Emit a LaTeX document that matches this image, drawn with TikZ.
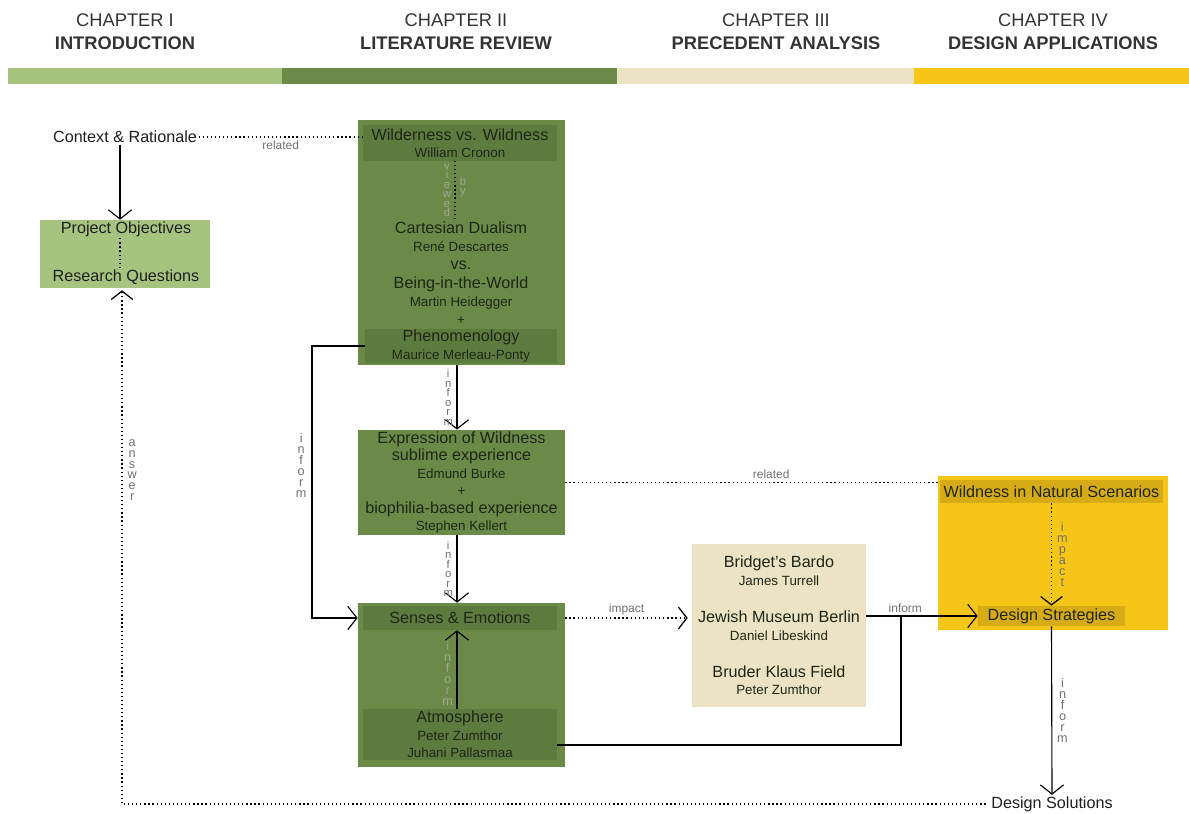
\documentclass[tikz,border=0pt]{standalone}
\usepackage{fontspec}
\setmainfont{Liberation Sans}
\usetikzlibrary{arrows.meta, positioning, calc}

\definecolor{introgreen}{HTML}{A6C47F}
\definecolor{litgreen}{HTML}{6B8A48}
\definecolor{litband}{HTML}{5E7B3F}
\definecolor{precbeige}{HTML}{EBE3C3}
\definecolor{desyellow}{HTML}{F5C518}
\definecolor{desband}{HTML}{D6AB16}
\definecolor{txtdark}{HTML}{1E2616}
\definecolor{labgrey}{HTML}{707070}
\definecolor{labfade}{HTML}{A3A69A}

\newcommand{\who}[1]{{\fontsize{9.5}{11}\selectfont #1}}

\tikzset{
  chap/.style={align=center, font=\fontsize{13}{16.4}\selectfont, text=black!80},
  txt/.style={align=center, font=\fontsize{11.5}{12.5}\selectfont, inner sep=1pt, text=black!88},
  panel/.style={fill=#1, inner sep=0pt, txt, text=txtdark},
  band/.style={fill=#1, inner sep=0pt, txt, text=txtdark},
  arr/.style={-{Straight Barb[length=2.3mm, width=5.8mm]}, line width=0.8pt},
  dots/.style={dotted, line width=0.9pt},
  dotarr/.style={dots, -{Straight Barb[length=2.1mm, width=5.4mm]}},
  elab/.style={text=labgrey, font=\fontsize{8.5}{10}\selectfont, inner sep=2pt},
  vlab/.style={align=center, text=labgrey, inner sep=1.5pt, font=\fontsize{8}{6.7}\selectfont},
  vlabwide/.style={vlab, font=\fontsize{9}{7.8}\selectfont},
}

\begin{document}
\begin{tikzpicture}[x=0.025cm, y=-0.025cm]
  \useasboundingbox (0,0) rectangle (1189,814);

  % chapter headings and colour bar
  \node[chap] (ch1) at (125,31.5) {CHAPTER I\\\textbf{INTRODUCTION}};
  \node[chap] (ch2) at (456,31.5) {CHAPTER II\\\textbf{LITERATURE REVIEW}};
  \node[chap] (ch3) at (776,31.5) {CHAPTER III\\\textbf{PRECEDENT ANALYSIS}};
  \node[chap] (ch4) at (1053,31.5) {CHAPTER IV\\\textbf{DESIGN APPLICATIONS}};
  \fill[introgreen] (8,68) rectangle (282,84);
  \fill[litgreen] (282,68) rectangle (617,84);
  \fill[precbeige] (617,68) rectangle (914,84);
  \fill[desyellow] (914,68) rectangle (1189,84);

  % chapter I
  \node[txt] (ctx) at (125,137) {Context \& Rationale};
  \node[panel=introgreen, minimum width=4.25cm, minimum height=1.7cm] (proj) at (125,254) {};
  \node[txt] (obj) at (126,229) {Project Objectives};
  \node[txt] (rq) at (126,277) {Research Questions};

  % chapter II
  \node[panel=litgreen, minimum width=5.175cm, minimum height=6.125cm] (lit) at (461.5,242.5) {};
  \node[band=litband, minimum width=4.85cm, minimum height=0.875cm] (cronon) at (460,143)
    {Wilderness vs. Wildness\\\who{William Cronon}};
  \node[band=litband, minimum width=4.8cm, minimum height=0.85cm] (pheno) at (461,346)
    {Phenomenology\\\who{Maurice Merleau-Ponty}};
  \node[txt, text=txtdark, font=\fontsize{11.5}{13}\selectfont] (dual) at (461,273)
    {Cartesian Dualism\\\who{René Descartes}\\vs.\\Being-in-the-World\\\who{Martin Heidegger}\\\who{+}};
  \node[panel=litgreen, minimum width=5.175cm, minimum height=2.525cm] (expr) at (461.5,482.5)
    {Expression of Wildness\\sublime experience\\\who{Edmund Burke}\\\who{+}\\biophilia-based experience\\\who{Stephen Kellert}};
  \node[panel=litgreen, minimum width=5.175cm, minimum height=4.1cm] (sense) at (461.5,685) {};
  \node[band=litband, minimum width=4.85cm, minimum height=0.6cm] (emo) at (460,618) {Senses \& Emotions};
  \node[band=litband, minimum width=4.85cm, minimum height=1.275cm] (atmo) at (460,734.5)
    {Atmosphere\\\who{Peter Zumthor}\\\who{Juhani Pallasmaa}};

  % chapter III
  \node[panel=precbeige, minimum width=4.35cm, minimum height=4.075cm] (prec) at (779,625.5)
    {Bridget’s Bardo\\\who{James Turrell}\\[14pt]Jewish Museum Berlin\\\who{Daniel Libeskind}\\[14pt]Bruder Klaus Field\\\who{Peter Zumthor}};

  % chapter IV
  \node[panel=desyellow, minimum width=5.75cm, minimum height=3.85cm] (des) at (1053,553) {};
  \node[band=desband, minimum width=5.575cm, minimum height=0.575cm] (natural) at (1051.5,491.5)
    {Wildness in Natural Scenarios};
  \node[band=desband, minimum width=3.675cm, minimum height=0.5cm] (strat) at (1051.5,616) {Design Strategies};
  \node[txt] (sol) at (1052,804) {Design Solutions};

  % rails for the connectors
  \coordinate (ctxrail) at (120,0);
  \coordinate (viewrail) at (455,0);
  \coordinate (litrail) at (457,0);
  \coordinate (leftrail) at (312,0);
  \coordinate (ansrail) at (122,0);
  \coordinate (atmojoin) at (901,745);

  % connectors
  \draw[arr] (ctx.south -| ctxrail) -- (proj.north -| ctxrail);
  \draw[dots] (obj.south -| ctxrail) -- (rq.north -| ctxrail);
  \draw[dots] (ctx.east) -- node[elab, below] {related} (cronon.west |- ctx.east);
  \draw[dots] (cronon.south -| viewrail) -- (dual.north -| viewrail);
  \node[vlab, text=labfade] (viewed) at (447,190) {v\\i\\e\\w\\e\\d};
  \node[vlab, text=labfade] (by) at (463,187) {b\\y};
  \draw[arr] (lit.south -| litrail) -- node[vlab, left=1pt] {i\\n\\f\\o\\r\\m} (expr.north -| litrail);
  \draw[arr] (expr.south -| litrail) -- node[vlab, left=1pt] {i\\n\\f\\o\\r\\m} (sense.north -| litrail);
  \draw[arr] (atmo.north -| litrail) -- node[vlabwide, text=labfade, left=1pt, pos=0.45] {i\\n\\f\\o\\r\\m} (emo.south -| litrail);
  \draw[arr] (pheno.west) -- (pheno.west -| leftrail)
    -- node[vlabwide, left=2pt, pos=0.44] {i\\n\\f\\o\\r\\m} (emo.west -| leftrail) -- (sense.west |- emo.west);
  \draw[dots] (expr.east) -- node[elab, above, pos=0.55] {related} (natural.west |- expr.east);
  \draw[dotarr] (natural.south) -- node[vlabwide, right=2pt] {i\\m\\p\\a\\c\\t} (strat.north);
  \draw[dotarr] (sense.east |- emo) -- node[elab, above] {impact} ([xshift=-0.1cm]prec.west |- emo);
  \draw[arr] (prec.east |- strat) -- node[elab, above, pos=0.35] {inform} (strat.west);
  \draw[line width=0.8pt] (atmo.east |- atmojoin) -- (atmojoin) -- (atmojoin |- strat.west);
  \draw[arr] (strat.south) -- node[vlabwide, right=2pt] {i\\n\\f\\o\\r\\m} (sol.north);
  \draw[dotarr] ([xshift=-0.1cm]sol.west) -- (sol.west -| ansrail)
    -- node[vlabwide, right=2pt, pos=0.65] {a\\n\\s\\w\\e\\r} ([yshift=-0.05cm]proj.south -| ansrail);
\end{tikzpicture}
\end{document}
